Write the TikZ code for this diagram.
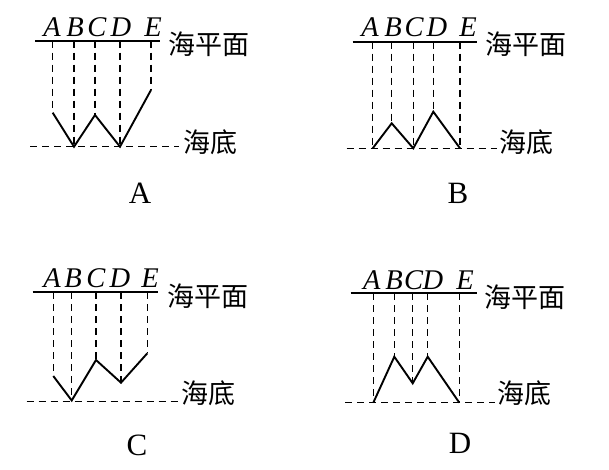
\documentclass[tikz,border=0pt]{standalone}
\usepackage{fontspec}
\setmainfont{Liberation Serif}
\newfontfamily\cjk{Noto Sans CJK SC}
\usetikzlibrary{positioning}

\begin{document}
\begin{tikzpicture}[x=1pt, y=-1pt,
  sealine/.style={line width=1.8pt},
  floorline/.style={line width=1.5pt, dash pattern=on 7pt off 5pt},
  drop/.style={line width=1.5pt, dash pattern=on 7pt off 5pt},
  profile/.style={line width=1.9pt, line join=miter},
  letter/.style={font=\fontsize{28.5}{32}\selectfont\itshape, inner sep=0pt},
  cn/.style={font=\fontsize{27}{30}\selectfont\cjk, inner sep=0pt},
  caption/.style={font=\fontsize{31}{33}\selectfont, inner sep=0pt}]

\useasboundingbox (0,0) rectangle (609,470);

% Panel A
\coordinate (aL) at (35,40.7);  \coordinate (aR) at (160,40.7);
\coordinate (aFL) at (30,146.7); \coordinate (aFR) at (179,146.7);
\coordinate (aA) at (52.7,112.7); \coordinate (aB) at (74,146.7);
\coordinate (aC) at (95,115);     \coordinate (aD) at (120,146.7);
\coordinate (aE) at (151,90);
\draw[sealine] (aL) -- (aR);
\draw[floorline] (aFL) -- (aFR);
\foreach \p in {aA,aB,aC,aD,aE} \draw[drop] (\p |- aL) -- (\p);
\draw[profile] (aA) -- (aB) -- (aC) -- (aD) -- (aE);
\node[letter] (aLA) at (52,27) {A};
\node[letter] (aLB) at (75,27) {B};
\node[letter] (aLC) at (97,27) {C};
\node[letter] (aLD) at (121,27) {D};
\node[letter] (aLE) at (153,27) {E};
\node[cn] (aSea) at (209,44) {海平面};
\node[cn] (aBed) at (210,142) {海底};
\node[caption] (aCap) at (140,193) {A};

% Panel B
\coordinate (bL) at (352.7,41.7);  \coordinate (bR) at (476.7,41.7);
\coordinate (bFL) at (346.7,148.3); \coordinate (bFR) at (496.7,148.3);
\coordinate (bA) at (372.7,148.3); \coordinate (bB) at (391.7,123.3);
\coordinate (bC) at (413.3,148.3); \coordinate (bD) at (433.3,111.7);
\coordinate (bE) at (460,148.3);
\draw[sealine] (bL) -- (bR);
\draw[floorline] (bFL) -- (bFR);
\foreach \p in {bA,bB,bC,bD,bE} \draw[drop] (\p |- bL) -- (\p);
\draw[profile] (bA) -- (bB) -- (bC) -- (bD) -- (bE);
\node[letter] (bLA) at (370,27) {A};
\node[letter] (bLB) at (393,27) {B};
\node[letter] (bLC) at (414,27) {C};
\node[letter] (bLD) at (437,27) {D};
\node[letter] (bLE) at (468,27) {E};
\node[cn] (bSea) at (526,44) {海平面};
\node[cn] (bBed) at (526,142) {海底};
\node[caption] (bCap) at (458,193) {B};

% Panel C
\coordinate (cL) at (32.7,292.3);  \coordinate (cR) at (158,292.3);
\coordinate (cFL) at (26.7,401.7); \coordinate (cFR) at (178,401.7);
\coordinate (cA) at (53.3,376);    \coordinate (cB) at (71.7,400.5);
\coordinate (cC) at (96,360);      \coordinate (cD) at (121,382.7);
\coordinate (cE) at (147.3,353.3);
\draw[sealine] (cL) -- (cR);
\draw[floorline] (cFL) -- (cFR);
\foreach \p in {cA,cB,cC,cD,cE} \draw[drop] (\p |- cL) -- (\p);
\draw[profile] (cA) -- (cB) -- (cC) -- (cD) -- (cE);
\node[letter] (cLA) at (52,278) {A};
\node[letter] (cLB) at (73,278) {B};
\node[letter] (cLC) at (96,278) {C};
\node[letter] (cLD) at (120,278) {D};
\node[letter] (cLE) at (150,278) {E};
\node[cn] (cSea) at (208,296) {海平面};
\node[cn] (cBed) at (208,393) {海底};
\node[caption] (cCap) at (137,445) {C};

% Panel D
\coordinate (dL) at (350.7,293.3);  \coordinate (dR) at (476.7,293.3);
\coordinate (dFL) at (345,402.7);   \coordinate (dFR) at (495,402.7);
\coordinate (dA) at (373.3,402.7);  \coordinate (dB) at (394.3,356.7);
\coordinate (dC) at (412.7,383.3);  \coordinate (dD) at (427.7,356.7);
\coordinate (dE) at (459.3,402.7);
\draw[sealine] (dL) -- (dR);
\draw[floorline] (dFL) -- (dFR);
\foreach \p in {dA,dB,dC,dD,dE} \draw[drop] (\p |- dL) -- (\p);
\draw[profile] (dA) -- (dB) -- (dC) -- (dD) -- (dE);
\node[letter] (dLA) at (371.7,280) {A};
\node[letter] (dLB) at (394,280) {B};
\node[letter] (dLC) at (413.5,280) {C};
\node[letter] (dLD) at (433,280) {D};
\node[letter] (dLE) at (465,280) {E};
\node[cn] (dSea) at (525,297) {海平面};
\node[cn] (dBed) at (524,393) {海底};
\node[caption] (dCap) at (460,443) {D};

\end{tikzpicture}
\end{document}
